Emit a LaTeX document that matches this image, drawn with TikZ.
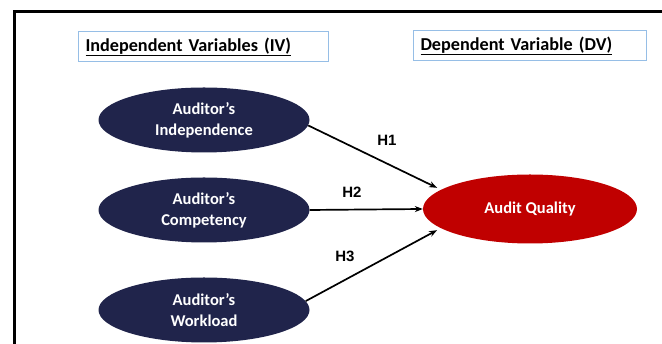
\documentclass[tikz,border=0pt]{standalone}
\usepackage{fontspec}
\setmainfont{Carlito}
\newfontfamily\arialfont{Liberation Sans}
\usetikzlibrary{shapes.geometric,arrows.meta}
\definecolor{navy}{RGB}{32,36,75}
\definecolor{dvred}{RGB}{192,0,0}
\definecolor{boxblue}{RGB}{150,190,230}
\begin{document}
\begin{tikzpicture}[x=1pt,y=1pt,
  ivnode/.style={ellipse,fill=navy,draw=none,minimum width=211pt,minimum height=65pt,inner sep=0pt,
    text=white,font=\fontsize{16.5}{21}\selectfont\bfseries,align=center},
  dvnode/.style={ellipse,fill=dvred,draw=none,minimum width=214pt,minimum height=69pt,inner sep=0pt,
    text=white,font=\fontsize{16.5}{21}\selectfont\bfseries,align=center},
  headbox/.style={draw=boxblue,line width=1pt,anchor=west,minimum height=30pt,inner xsep=7pt,
    align=left,font=\fontsize{18.2}{22}\selectfont\bfseries},
  hyp/.style={-{Stealth[length=8pt,width=6pt]},line width=1.7pt,black},
  hlabel/.style={font=\arialfont\fontsize{15}{17}\selectfont\bfseries}]
\useasboundingbox (0,0) rectangle (662,344);
\draw[line width=3pt] (14,0) -- (14,332) -- (670,332);
\node[headbox,text width=236pt] (iv) at (78,297) {\underline{Independent Variables (IV)}};
\node[headbox,text width=219pt] (dvh) at (413,298) {\underline{Dependent Variable (DV)}};
\node[ivnode] (e1) at (204,224) {Auditor’s\\Independence};
\node[ivnode] (e2) at (204,134) {Auditor’s\\Competency};
\node[ivnode] (e3) at (204,34) {Auditor’s\\Workload};
\node[dvnode] (dv) at (530,135) {Audit Quality};
\draw[hyp] (e1.-3) -- ([xshift=-8pt]dv.166);
\draw[hyp] (e2.east) -- (dv.west);
\draw[hyp] (e3.5) -- ([xshift=-8pt]dv.194);
\node[hlabel] (h1) at (387,204) {H1};
\node[hlabel] (h2) at (352,152) {H2};
\node[hlabel] (h3) at (345,88) {H3};
\end{tikzpicture}
\end{document}
